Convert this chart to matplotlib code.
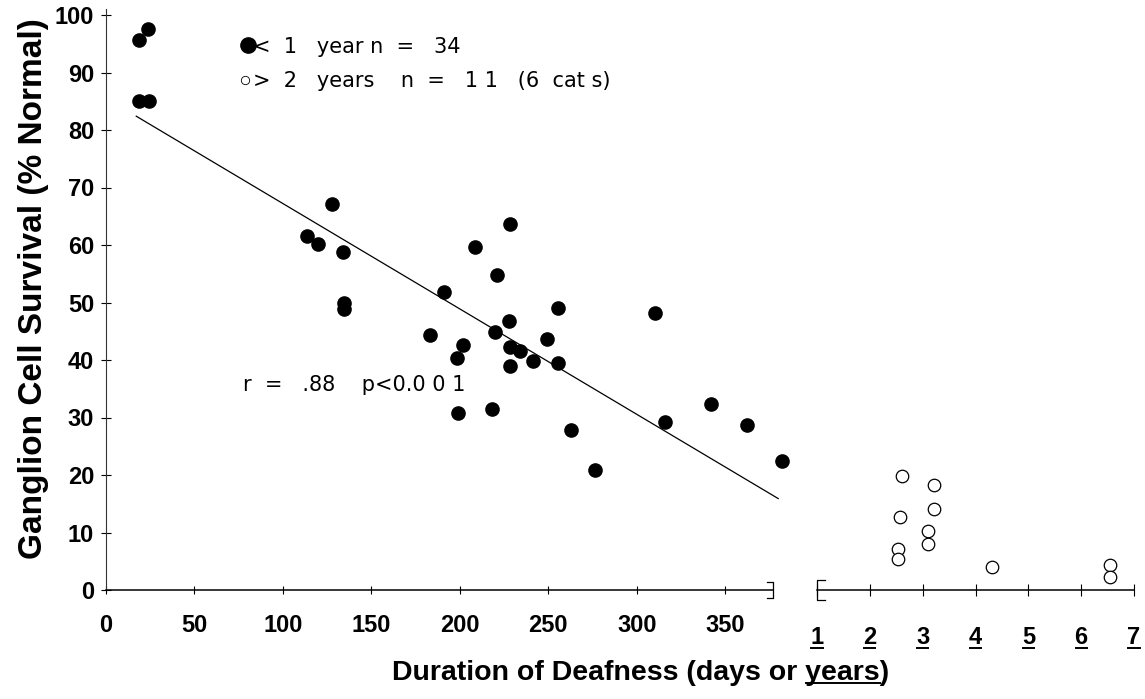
import matplotlib
matplotlib.use("Agg")
import matplotlib.pyplot as plt
from matplotlib.lines import Line2D

# < 1 year group: duration in days, survival in % normal
days = [18.4, 23.5, 18.9, 24.5, 127.7, 113.9, 120.0, 133.8, 134.3, 134.3,
        191.0, 208.6, 228.6, 221.1, 255.3, 228.0, 220.0, 182.9, 201.9, 198.6,
        228.3, 233.9, 249.3, 241.6, 255.4, 228.1, 198.7, 218.0, 262.9, 276.4,
        310.5, 341.8, 316.2, 362.2, 382.4]
surv_days = [95.7, 97.6, 85.0, 85.0, 67.2, 61.6, 60.1, 58.7, 50.0, 48.8,
             51.9, 59.6, 63.7, 54.7, 49.1, 46.8, 44.9, 44.4, 42.6, 40.3,
             42.2, 41.6, 43.6, 39.9, 39.4, 38.9, 30.7, 31.5, 27.9, 20.8,
             48.2, 32.4, 29.2, 28.7, 22.5]

# > 2 years group: duration in years
years = [2.60, 2.58, 2.54, 2.54, 3.21, 3.21, 3.10, 3.10, 4.31, 6.55, 6.55]
surv_years = [19.8, 12.7, 7.1, 5.4, 18.2, 14.1, 10.2, 8.0, 4.0, 4.4, 2.3]

# regression line end points
reg_x = [17.1, 380.0]
reg_y = [82.4, 15.9]

day_ticks = [0, 50, 100, 150, 200, 250, 300, 350]
year_ticks = [1, 2, 3, 4, 5, 6, 7]
surv_ticks = [0, 10, 20, 30, 40, 50, 60, 70, 80, 90, 100]

W, H = 1145, 699
bold = {"family": ["Liberation Sans", "DejaVu Sans"], "weight": "bold"}
plain = {"family": ["DejaVu Sans"]}


def fx(x):
    return x / W


def fy(y):
    return 1 - y / H


fig = plt.figure(figsize=(W / 100, H / 100), dpi=100)

y0, y100 = 590, 15
ax = fig.add_axes([fx(106), fy(y0), (800 - 106) / W, (y0 - y100) / H])
ax2 = fig.add_axes([fx(817), fy(y0), (1134 - 817) / W, (y0 - y100) / H])

ax.set_xlim(0, (800 - 106) / 1.769)
ax.set_ylim(0, 100)
ax2.set_xlim(1, 7)
ax2.set_ylim(0, 100)

for a in (ax, ax2):
    a.patch.set_alpha(0)
    for s in ("top", "right"):
        a.spines[s].set_visible(False)
    a.spines["bottom"].set_linewidth(1.1)
ax2.spines["left"].set_visible(False)
ax.spines["left"].set_linewidth(0.8)
ax.spines["left"].set_color("#333333")
ax.spines["bottom"].set_bounds(0, 377)
ax.spines["left"].set_bounds(0, 101)

ax.plot(days, surv_days, "o", color="black", ms=9.5, clip_on=False)
ax.plot(reg_x, reg_y, color="black", lw=0.9, clip_on=False)
ax2.plot(years, surv_years, "o", mfc="white", mec="black", mew=0.9, ms=9,
         clip_on=False)

ax.set_xticks(day_ticks)
ax.set_xticklabels([str(t) for t in day_ticks], fontsize=17, **bold)
ax.set_yticks(surv_ticks)
ax.set_yticklabels([str(t) for t in surv_ticks], fontsize=17, **bold)
ax.tick_params(axis="x", direction="inout", length=6, width=0.8, pad=14)
ax.tick_params(axis="y", direction="inout", length=7, width=0.8, pad=5)

ax2.set_xticks(year_ticks)
ax2.set_xticklabels([str(t) for t in year_ticks], fontsize=17, **bold)
ax2.set_yticks([])
ax2.tick_params(axis="x", direction="inout", length=8, width=0.8, pad=22)

# axis break brackets
ax.plot([377 - 3.4, 377, 377, 377 - 3.4], [1.4, 1.4, -1.4, -1.4],
        color="black", lw=0.9, clip_on=False)
ax2.plot([1.15, 1, 1, 1.15], [1.7, 1.7, -1.7, -1.7],
         color="black", lw=0.9, clip_on=False)

# legend
fig.add_artist(Line2D([fx(248)], [fy(45)], marker="o", color="black", ms=11,
                      transform=fig.transFigure))
fig.add_artist(Line2D([fx(245)], [fy(80)], marker="o", mfc="white",
                      mec="black", mew=0.6, ms=6, transform=fig.transFigure))
fig.text(fx(253), fy(47), "<  1   year n  =   34", fontsize=15,
         va="center", **plain)
fig.text(fx(253), fy(81), ">  2   years    n  =   1 1   (6  cat s)",
         fontsize=15, va="center", **plain)
fig.text(fx(243), fy(385), "r  =   .88    p<0.0 0 1", fontsize=15,
         va="center", **plain)

# axis titles
fig.text(fx(34), fy(289), "Ganglion Cell Survival (% Normal)", rotation=90,
         fontsize=24, ha="center", va="center", **bold)
xl_full = "Duration of Deafness (days or years)"
t = fig.text(fx(641), fy(673), xl_full, fontsize=20.5, ha="center",
             va="center", **bold)

fig.canvas.draw()
r = fig.canvas.get_renderer()
bb = t.get_window_extent(r)
tmp = fig.text(0, 0, ")", fontsize=20.5, **bold)
w_par = tmp.get_window_extent(r).width
tmp2 = fig.text(0, 0, "years", fontsize=20.5, **bold)
w_yr = tmp2.get_window_extent(r).width
tmp.remove()
tmp2.remove()
ux1 = bb.x1 - w_par
fig.add_artist(Line2D([(ux1 - w_yr) / W, ux1 / W],
                      [(bb.y0 + 3) / H, (bb.y0 + 3) / H],
                      color="black", lw=1.4, transform=fig.transFigure))

# underline year tick labels
for lbl in ax2.get_xticklabels():
    b = lbl.get_window_extent(r)
    fig.add_artist(Line2D([(b.x0 + 1) / W, (b.x1 - 1) / W],
                          [(b.y0 + 1) / H, (b.y0 + 1) / H],
                          color="black", lw=1.4, transform=fig.transFigure))

fig.savefig("out.png", dpi=100)
